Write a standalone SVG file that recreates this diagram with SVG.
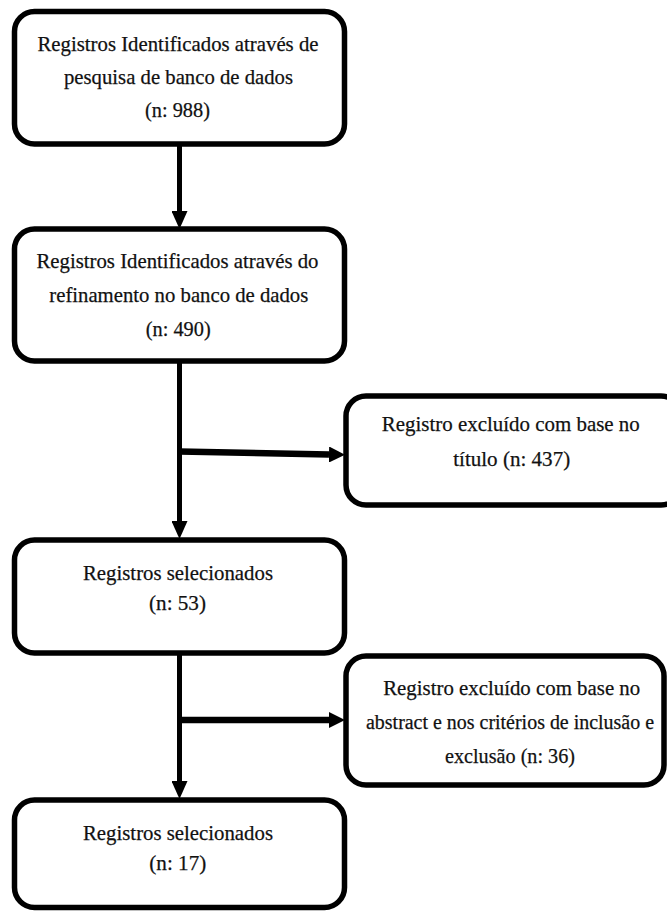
<svg xmlns="http://www.w3.org/2000/svg" width="667" height="912" viewBox="0 0 667 912">
  <style>
    .box { fill: #ffffff; stroke: #000000; stroke-width: 5.5; }
    .lbl { font-family: "Liberation Serif", "Times New Roman", "DejaVu Serif", serif; font-size: 22px; fill: #111111; stroke: #111111; stroke-width: 0.25; text-anchor: middle; }
    .conn { fill: none; stroke: #000000; stroke-width: 5; stroke-linecap: butt; }
    .connh { fill: none; stroke: #000000; stroke-width: 6.5; stroke-linecap: butt; }
  </style>
  <defs>
    <marker id="arrow" viewBox="0 0 16 16" markerWidth="16" markerHeight="16" refX="0" refY="8" orient="auto" markerUnits="userSpaceOnUse">
      <path d="M0,0 L16,8 L0,16 Z" fill="#000000"/>
    </marker>
    <marker id="arrowV" viewBox="0 0 18 16" markerWidth="18" markerHeight="16" refX="0" refY="8" orient="auto" markerUnits="userSpaceOnUse">
      <path d="M0,0 L18,8 L0,16 Z" fill="#000000"/>
    </marker>
  </defs>

  <g id="connectors">
    <path class="conn" d="M179.5,144 L179.5,211" marker-end="url(#arrowV)"/>
    <path class="conn" d="M179.5,361 L179.5,521" marker-end="url(#arrowV)"/>
    <path class="connh" d="M179.5,451.5 L329,454.5" marker-end="url(#arrow)"/>
    <path class="conn" d="M179.5,653 L179.5,781" marker-end="url(#arrowV)"/>
    <path class="connh" d="M179.5,720 L329,720" marker-end="url(#arrow)"/>
  </g>

  <g id="node1">
    <rect class="box" x="14.5" y="11.5" width="330" height="132.5" rx="20" ry="20"/>
    <text class="lbl" x="178" y="51" textLength="281" lengthAdjust="spacingAndGlyphs">Registros Identificados através de</text>
    <text class="lbl" x="178.5" y="84" textLength="229" lengthAdjust="spacingAndGlyphs">pesquisa de banco de dados</text>
    <text class="lbl" x="177.5" y="117" textLength="65" lengthAdjust="spacingAndGlyphs">(n: 988)</text>
  </g>

  <g id="node2">
    <rect class="box" x="14.5" y="229" width="330" height="132" rx="20" ry="20"/>
    <text class="lbl" x="177.5" y="268" textLength="282" lengthAdjust="spacingAndGlyphs">Registros Identificados através do</text>
    <text class="lbl" x="178.8" y="302" textLength="259" lengthAdjust="spacingAndGlyphs">refinamento no banco de dados</text>
    <text class="lbl" x="178.2" y="336" textLength="65" lengthAdjust="spacingAndGlyphs">(n: 490)</text>
  </g>

  <g id="node3">
    <rect class="box" x="346" y="396" width="335" height="109" rx="20" ry="20"/>
    <text class="lbl" x="510.8" y="431" textLength="258" lengthAdjust="spacingAndGlyphs">Registro excluído com base no</text>
    <text class="lbl" x="511.7" y="466" textLength="117" lengthAdjust="spacingAndGlyphs">título (n: 437)</text>
  </g>

  <g id="node4">
    <rect class="box" x="14.5" y="540" width="330" height="113" rx="20" ry="20"/>
    <text class="lbl" x="178" y="580" textLength="190" lengthAdjust="spacingAndGlyphs">Registros selecionados</text>
    <text class="lbl" x="177.5" y="610" textLength="57" lengthAdjust="spacingAndGlyphs">(n: 53)</text>
  </g>

  <g id="node5">
    <rect class="box" x="346" y="656" width="318" height="129" rx="20" ry="20"/>
    <text class="lbl" x="511.7" y="695" textLength="257" lengthAdjust="spacingAndGlyphs">Registro excluído com base no</text>
    <text class="lbl" x="510" y="729" style="font-size:20px" textLength="288" lengthAdjust="spacingAndGlyphs">abstract e nos critérios de inclusão e</text>
    <text class="lbl" x="510" y="763" textLength="130" lengthAdjust="spacingAndGlyphs">exclusão (n: 36)</text>
  </g>

  <g id="node6">
    <rect class="box" x="14.5" y="800" width="330" height="107.5" rx="20" ry="20"/>
    <text class="lbl" x="178" y="840" textLength="190" lengthAdjust="spacingAndGlyphs">Registros selecionados</text>
    <text class="lbl" x="177.8" y="870" textLength="57" lengthAdjust="spacingAndGlyphs">(n: 17)</text>
  </g>
</svg>
